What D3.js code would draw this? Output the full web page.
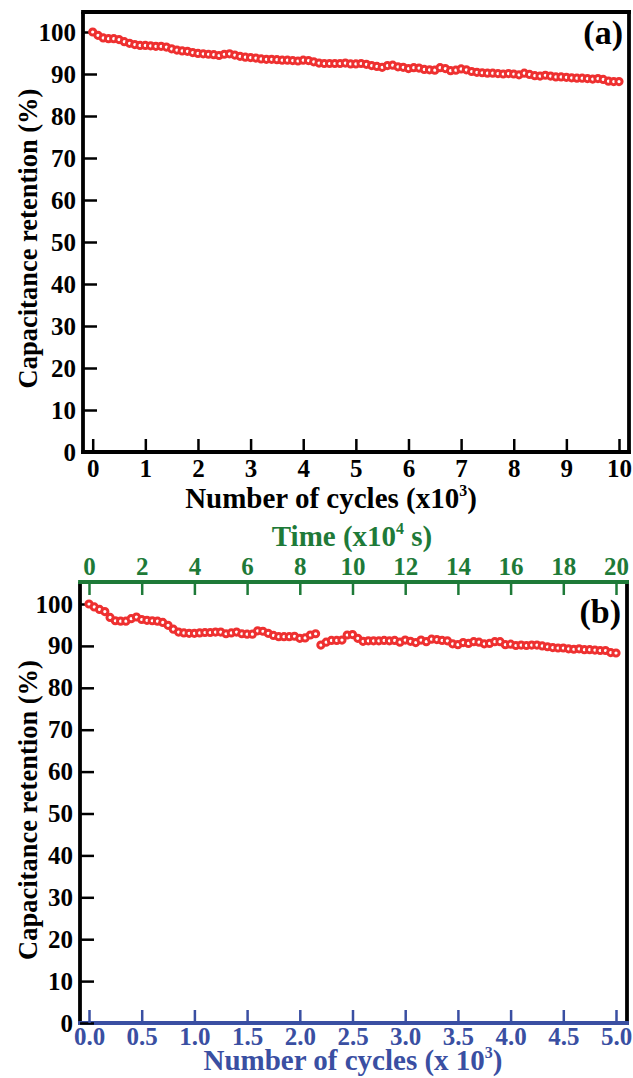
<!DOCTYPE html>
<html><head><meta charset="utf-8">
<script src="https://cdn.jsdelivr.net/npm/d3@7"></script>
<style>
body{margin:0;background:#fff;}
svg text{font-family:"Liberation Serif","Times New Roman",serif;font-weight:bold;}
</style></head>
<body>
<svg id="c" width="633" height="1078"></svg>
<script>
// ---- data ----
const cyclesA = d3.range(0, 101).map(i => i / 10); // x10^3 cycles
const retentionA = [100,99.2,98.6,98.4,98.4,98.2,97.7,97.3,97.0,96.8,
96.8,96.7,96.6,96.6,96.4,96.0,95.7,95.5,95.4,95.1,
94.9,94.8,94.7,94.6,94.4,94.7,94.8,94.5,94.2,94.0,
93.9,93.8,93.6,93.5,93.5,93.4,93.3,93.3,93.2,93.1,
93.3,93.2,92.9,92.6,92.5,92.5,92.5,92.5,92.6,92.4,
92.4,92.5,92.3,92.0,91.8,91.6,92.0,92.1,91.7,91.6,
91.3,91.5,91.4,91.1,91.0,90.9,91.5,91.3,90.8,90.9,
91.2,91.0,90.6,90.4,90.3,90.2,90.2,90.1,90.0,90.1,
90.0,89.8,90.2,89.9,89.6,89.5,89.7,89.5,89.3,89.3,
89.2,89.1,89.0,89.0,88.9,88.8,88.9,88.7,88.3,88.2,88.2];

const cyclesB = d3.range(0, 101).map(i => i * 0.05); // x10^3 cycles
const retentionB = [100,99.3,98.7,98.2,96.8,96.0,95.9,95.9,96.5,96.9,
96.3,96.1,96.0,95.9,95.6,94.9,94.0,93.3,93.1,93.0,
93.0,93.1,93.2,93.2,93.3,93.3,92.9,93.1,93.3,92.9,
92.8,92.8,93.6,93.5,93.0,92.5,92.2,92.2,92.2,92.3,
91.8,91.9,92.6,92.9,90.2,90.9,91.3,91.3,91.4,92.6,
92.7,91.8,91.1,91.2,91.2,91.2,91.3,91.2,91.3,90.9,
91.4,91.1,90.8,91.4,91.0,91.6,91.5,91.3,91.2,90.5,
90.3,90.8,90.6,91.0,90.9,90.5,90.6,91.0,91.0,90.3,
90.4,90.1,90.2,90.1,90.2,90.2,90.0,89.8,89.6,89.5,
89.5,89.3,89.2,89.3,89.1,89.1,89.0,88.9,88.9,88.4,88.3];

const yTicks = [0,10,20,30,40,50,60,70,80,90,100];
const xTicksA = [0,1,2,3,4,5,6,7,8,9,10];
const xTicksB = [0,0.5,1,1.5,2,2.5,3,3.5,4,4.5,5];
const timeTicks = [0,2,4,6,8,10,12,14,16,18,20];

// ---- drawing ----
const svg = d3.select("#c");
const RED = "#ee3030", GREEN = "#1e7a38", BLUE = "#3a4fa2";
const FS = 25, TS = 29, YS = 26.5;
const FONT = "'Liberation Serif','Times New Roman',serif";

function superTitle(g, x, y, parts, color, size, rotate) {
  const t = g.append("text").attr("x", x).attr("y", y)
    .attr("text-anchor", "middle").attr("fill", color).attr("font-size", size)
    .attr("font-family", FONT).attr("font-weight", "bold");
  if (rotate) t.attr("transform", `rotate(-90,${x},${y})`);
  parts.forEach(p => {
    const ts = t.append("tspan").text(p.t);
    if (p.sup) ts.attr("font-size", size * 0.55).attr("dy", -size * 0.42);
    if (p.down) ts.attr("dy", size * 0.42);
  });
  return t;
}

function styleAxis(a, color) {
  a.attr("font-family", FONT);
  a.select(".domain").remove();
  a.selectAll("line").attr("stroke", color).attr("stroke-width", 2.5);
  a.selectAll("text").attr("font-size", FS).attr("fill", color)
    .attr("font-family", FONT).attr("font-weight", "bold");
}

function panel(o) {
  const g = svg.append("g");
  const x = d3.scaleLinear().domain(o.xDomain).range([o.x0, o.x1]);
  const y = d3.scaleLinear().domain([0, 100]).range([o.y0, o.y100]);

  const lw = 3.8;
  g.append("line").attr("x1", o.left).attr("x2", o.left).attr("y1", o.top).attr("y2", o.bottom + lw/2)
    .attr("stroke", "#000").attr("stroke-width", lw);
  g.append("line").attr("x1", o.right).attr("x2", o.right).attr("y1", o.top - lw/2).attr("y2", o.bottom + lw/2)
    .attr("stroke", "#000").attr("stroke-width", lw);
  g.append("line").attr("x1", o.left - lw/2).attr("x2", o.right + lw/2).attr("y1", o.top).attr("y2", o.top)
    .attr("stroke", o.topColor).attr("stroke-width", lw);
  g.append("line").attr("x1", o.left - lw/2).attr("x2", o.right + lw/2).attr("y1", o.bottom).attr("y2", o.bottom)
    .attr("stroke", o.bottomColor).attr("stroke-width", lw);

  const ya = g.append("g").attr("transform", `translate(${o.left},0)`)
    .call(d3.axisLeft(y).tickValues(yTicks).tickSize(-14).tickPadding(7).tickSizeOuter(0));
  styleAxis(ya, "#000");

  const xa = g.append("g").attr("transform", `translate(0,${o.bottom})`)
    .call(d3.axisBottom(x).tickValues(o.xTicks).tickFormat(o.xFmt).tickSize(-13).tickPadding(o.bPad).tickSizeOuter(0));
  styleAxis(xa, o.bottomColor);

  if (o.timeAxis) {
    const t = d3.scaleLinear().domain([0, 20]).range([o.x0, o.x1]);
    const ta = g.append("g").attr("transform", `translate(0,${o.top})`)
      .call(d3.axisTop(t).tickValues(timeTicks).tickSize(-13).tickPadding(7).tickSizeOuter(0));
    styleAxis(ta, GREEN);
  }

  g.append("g").selectAll("circle").data(o.xs.map((d, i) => [d, o.ys[i]]))
    .join("circle")
    .attr("cx", d => x(d[0])).attr("cy", d => y(d[1])).attr("r", 3.1)
    .attr("fill", "#fff").attr("stroke", RED).attr("stroke-width", 3.0);

  g.append("text").attr("x", o.right - 6).attr("y", o.labelY).attr("text-anchor", "end")
    .attr("font-size", 34).attr("fill", "#000").attr("font-family", FONT).attr("font-weight", "bold")
    .text(o.label);

  superTitle(g, 37, (o.bottom + o.y100) / 2 - 3.5, [{t: "Capacitance retention (%)"}], "#000", YS, true);
  return {x, y};
}

panel({
  xDomain: [0, 10], x0: 92.7, x1: 619, y0: 452, y100: 32,
  left: 83, right: 629, top: 12, bottom: 452,
  xTicks: xTicksA, xFmt: d3.format("d"), bPad: 7,
  topColor: "#000", bottomColor: "#000",
  xs: cyclesA, ys: retentionA, label: "(a)", labelY: 44
});
superTitle(svg, 331, 508, [{t: "Number of cycles (x10"}, {t: "3", sup: true}, {t: ")", down: true}], "#000", TS);

panel({
  xDomain: [0, 5], x0: 89, x1: 616, y0: 1023, y100: 604,
  left: 80, right: 627, top: 582, bottom: 1023,
  xTicks: xTicksB, xFmt: d3.format(".1f"), bPad: 4,
  topColor: GREEN, bottomColor: BLUE, timeAxis: true,
  xs: cyclesB, ys: retentionB, label: "(b)", labelY: 623
});
superTitle(svg, 352, 546, [{t: "Time (x10"}, {t: "4", sup: true}, {t: " s)", down: true}], GREEN, TS);
superTitle(svg, 353, 1070, [{t: "Number of cycles (x 10"}, {t: "3", sup: true}, {t: ")", down: true}], BLUE, TS);
</script>
</body></html>
